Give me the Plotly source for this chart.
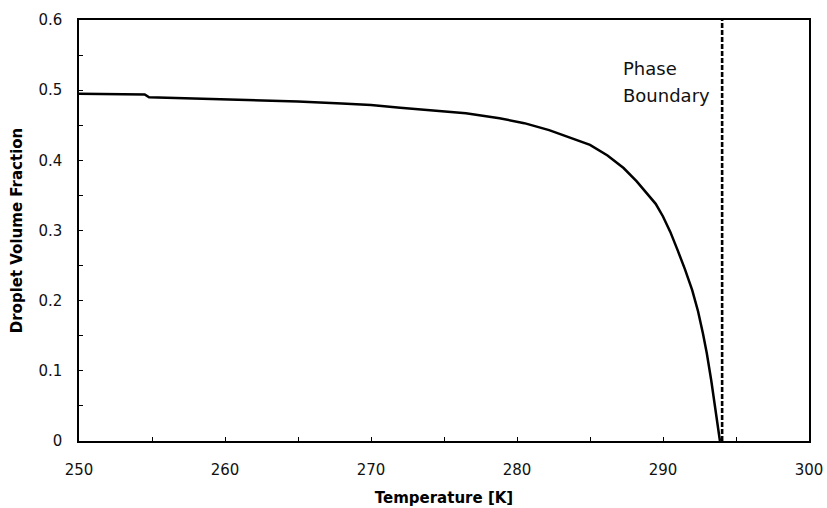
import plotly.graph_objects as go

# Data
temperature_K = [250, 254.5, 254.8, 258, 262, 265, 268, 270, 272, 274, 276.5, 278.8,
                 280.5, 282.2, 284, 285, 286.2, 287.3, 288.2, 288.9, 289.5, 290,
                 290.5, 291, 291.5, 292, 292.4, 292.74, 293, 293.3, 293.6, 293.9]
droplet_volume_fraction = [0.495, 0.494, 0.490, 0.488, 0.486, 0.484, 0.481, 0.479,
                           0.475, 0.471, 0.467, 0.460, 0.453, 0.443, 0.430, 0.422,
                           0.407, 0.389, 0.370, 0.353, 0.338, 0.320, 0.298, 0.272,
                           0.245, 0.215, 0.185, 0.153, 0.125, 0.087, 0.044, 0.0]
phase_boundary_T = [294.05, 294.05]
phase_boundary_y = [0, 0.6]

x_ticks = [250, 260, 270, 280, 290, 300]
y_ticks = [0, 0.1, 0.2, 0.3, 0.4, 0.5, 0.6]
y_tick_labels = ["0", "0.1", "0.2", "0.3", "0.4", "0.5", "0.6"]

fig = go.Figure()
fig.add_trace(go.Scatter(x=temperature_K, y=droplet_volume_fraction, mode="lines",
                         line=dict(color="black", width=2.5), showlegend=False))
fig.add_trace(go.Scatter(x=phase_boundary_T, y=phase_boundary_y, mode="lines",
                         line=dict(color="black", width=2.6, dash="5px,2px"),
                         showlegend=False))

fig.add_annotation(x=287.1, y=0.531, xref="x", yref="y", text="Phase",
                   showarrow=False, xanchor="left", yanchor="middle",
                   font=dict(family="DejaVu Sans", size=18, color="#111"))
fig.add_annotation(x=287.1, y=0.493, xref="x", yref="y", text="Boundary",
                   showarrow=False, xanchor="left", yanchor="middle",
                   font=dict(family="DejaVu Sans", size=18, color="#111"))

axis_common = dict(showline=True, linecolor="black", linewidth=1.5, mirror=True,
                   showgrid=False, zeroline=False, ticks="inside", ticklen=4,
                   tickwidth=1, tickcolor="black", automargin=False,
                   tickfont=dict(family="DejaVu Sans", size=15, color="#111"))

fig.update_layout(
    width=827, height=508,
    margin=dict(l=79, r=18, t=20, b=67),
    paper_bgcolor="white", plot_bgcolor="white",
    xaxis=dict(range=[250, 300], tickvals=x_ticks, ticklabelstandoff=14,
               minor=dict(dtick=5, ticks="inside", ticklen=4, tickcolor="black"),
               title=dict(text="Temperature [K]", standoff=15,
                          font=dict(family="DejaVu Sans", size=15, color="black",
                                    weight="bold")),
               **axis_common),
    yaxis=dict(range=[0, 0.6], tickvals=y_ticks, ticktext=y_tick_labels,
               ticklabelstandoff=12,
               minor=dict(dtick=0.05, ticks="inside", ticklen=4, tickcolor="black"),
               title=dict(text="Droplet Volume Fraction", standoff=12,
                          font=dict(family="DejaVu Sans", size=15, color="black",
                                    weight="bold")),
               **axis_common),
)

fig.write_html("out.html")
